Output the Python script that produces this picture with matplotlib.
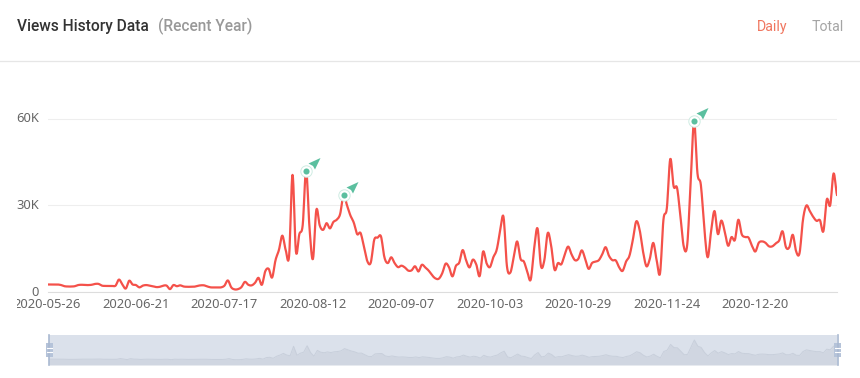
import numpy as np
import matplotlib
matplotlib.use("Agg")
import matplotlib.pyplot as plt
from matplotlib.path import Path
from matplotlib.patches import Rectangle
from matplotlib.lines import Line2D
from matplotlib.ticker import FixedLocator, FixedFormatter

W, H = 860, 378
TITLE = "Views History Data"
SUBTITLE = "(Recent Year)"
TAB_ACTIVE = "Daily"
TAB_OTHER = "Total"
date_labels = ["2020-05-26", "2020-06-21", "2020-07-17", "2020-08-12", "2020-09-07",
               "2020-10-03", "2020-10-29", "2020-11-24", "2020-12-20"]
date_index = [0, 26, 52, 78, 104, 130, 156, 182, 208]
y_ticks = [0, 30, 60]
y_labels = ["0", "30K", "60K"]
peak_index = [76, 87, 190]
views = [
    2.6,2.6,2.6,2.6,2.4,2.0,1.9,1.9,2.0,2.4,
    2.5,2.4,2.4,2.5,2.8,2.8,2.2,2.1,2.1,2.1,
    2.2,4.3,2.6,1.2,3.9,2.6,2.4,1.6,2.2,2.4,
    2.2,2.0,1.7,1.8,2.2,2.2,1.0,2.4,2.0,2.3,
    1.9,1.8,1.8,1.8,2.1,2.3,2.3,1.9,1.6,1.6,
    1.6,1.6,2.2,4.0,1.6,0.9,1.0,1.7,3.5,2.5,
    2.3,3.2,4.9,2.5,7.2,8.0,5.0,11,14.5,19.5,
    14.5,12.5,40.5,14,20,23.2,42,22,11.4,28.4,
    23,21.5,23.8,22,24.2,25,27,33.6,30,26.5,
    24,20,20.4,15.5,10.6,10.2,18,18.8,19.2,12,
    10,12,10,8.6,9.1,8.5,7.4,7.5,8.9,7.1,
    9.4,8.5,7.4,5.8,4.7,4.6,6.5,9.8,8.5,5.4,
    9,10.2,14.5,11,8.5,11.2,9.5,5.5,14,10,
    8.6,12,14.6,21,26,9,6.7,12,17.5,11.5,
    10.5,7,4.3,15,22,9,11,20.4,16,7.7,
    10,9.6,13,15.7,13,11,11.5,14.4,11.5,8,
    10,10.5,11,13,15.5,12.5,11,10.9,8.5,7.3,
    10.5,12.5,18,24.4,21.5,14,8.9,11.5,17,11,
    6.5,25,29,46,36.5,36,26,15.5,16.5,38,
    59,41,37,22,12,21,28,20,24.7,21,
    16,19,18,25,20,19,18.8,16,14,17,
    17.5,17,15.8,15.8,16.8,17.8,21,15.5,15.5,19.8,
    14,13.5,25,29.9,28,26,24.6,24.8,21,32,
    30,41,33.6,
]

RED = "#f4514a"
GREEN = "#5bbf9f"
FONT = "Noto Sans"

def rect_px(x0, y0, x1, y1):
    return [x0 / W, 1 - y1 / H, (x1 - x0) / W, (y1 - y0) / H]

def smooth(x, y, n=8):
    """Catmull-Rom display curve through the daily values."""
    x = np.asarray(x, float); y = np.asarray(y, float)
    t = np.linspace(0, 1, n, endpoint=False)[:, None]
    p0 = np.r_[y[0], y[:-2]]; p1 = y[:-1]; p2 = y[1:]; p3 = np.r_[y[2:], y[-1]]
    k = 0.5
    m1 = k * (p2 - p0); m2 = k * (p3 - p1)
    c = ((2*t**3 - 3*t**2 + 1) * p1 + (t**3 - 2*t**2 + t) * m1 +
         (-2*t**3 + 3*t**2) * p2 + (t**3 - t**2) * m2)
    xs = x[:-1] + t * np.diff(x)
    return np.r_[xs.T.ravel(), x[-1]], np.r_[c.T.ravel(), y[-1]]

days = np.arange(len(views))
fig = plt.figure(figsize=(W / 100, H / 100), dpi=100, facecolor="white")

# header
fig.text(17 / W, 1 - 26 / H, TITLE, family="Roboto", weight="medium", fontsize=11.2,
         color="#333333", va="center", ha="left")
fig.text(158 / W, 1 - 26 / H, SUBTITLE, family="Roboto", weight="medium", fontsize=11.2,
         color="#999999", va="center", ha="left")
fig.text(757 / W, 1 - 27 / H, TAB_ACTIVE, family="Roboto", fontsize=10.2,
         color="#f0765f", va="center", ha="left")
fig.text(812 / W, 1 - 27 / H, TAB_OTHER, family="Roboto", fontsize=10.2,
         color="#a5a5a5", va="center", ha="left")
fig.add_artist(Line2D([0, 1], [1 - 61 / H] * 2, color="#e6e6e6", lw=0.9))

# main chart
ax = fig.add_axes(rect_px(47.5, 100, 837, 292))
ax.set_xlim(0, len(views) - 1)
ax.set_ylim(0, 192 / 173.5 * 60)
ax.patch.set_visible(False)
for s in ["top", "right", "left"]:
    ax.spines[s].set_visible(False)
ax.spines["bottom"].set_color("#dddddd")
ax.yaxis.set_major_locator(FixedLocator(y_ticks))
ax.yaxis.set_major_formatter(FixedFormatter(y_labels))
ax.xaxis.set_major_locator(FixedLocator(date_index))
ax.xaxis.set_major_formatter(FixedFormatter(date_labels))
ax.tick_params(axis="both", length=0, labelsize=9.3, labelcolor="#666666", labelfontfamily=FONT)
ax.tick_params(axis="y", pad=6)
ax.tick_params(axis="x", pad=4.5)
for lab in ax.get_yticklabels():
    lab.set_verticalalignment("center")
ax.grid(axis="y", color="#eeeeee", lw=0.8)
ax.set_axisbelow(True)
clip = Rectangle((17, 0), W, H, transform=None)
for lab in ax.get_xticklabels():
    lab.set_clip_path(clip)
    lab.set_clip_on(True)

sx, sy = smooth(days, views)
ax.plot(sx, np.clip(sy, 0.3, None), color=RED, lw=1.6, solid_joinstyle="round", zorder=3)

# peak markers
px = [days[i] for i in peak_index]
py = [views[i] for i in peak_index]
ax.plot(px, py, ls="", marker="o", ms=8.2, mfc="white", mec="#cfece3", mew=0.7, zorder=4, clip_on=False)
ax.plot(px, py, ls="", marker="o", ms=4.4, mfc=GREEN, mec="none", zorder=5, clip_on=False)
arrow = Path([(2, 8), (14, 13.5), (8.5, 2), (6.5, 5.5), (2, 8)])
ax.plot(px, py, ls="", marker=arrow, ms=2 * 14 * 0.72, mfc=GREEN, mec="none", zorder=5, clip_on=False)

# data zoom
az = fig.add_axes(rect_px(49, 335, 837, 365))
az.set_xlim(0, len(views) - 1)
az.set_ylim(-14.75, 73.75)
az.set_facecolor("#dbe1eb")
for s in az.spines.values():
    s.set_visible(False)
az.set_xticks([]); az.set_yticks([])
az.fill_between(days, views, -14.75, color="#d0d6e1", lw=0)
az.plot(days, views, color="#c8cfdb", lw=0.7)
for xh in [49, 837.5]:
    fig.add_artist(Line2D([xh / W] * 2, [1 - 335 / H, 1 - 365 / H], color="#a9b9d1", lw=1.2))
    fig.add_artist(Rectangle(((xh - 3.5) / W, 1 - 357 / H), 7 / W, 14 / H,
                             transform=fig.transFigure, fc="#b5c3d9", ec="none"))
    for yh in [348, 352]:
        fig.add_artist(Line2D([(xh - 2.5) / W, (xh + 2.5) / W], [1 - yh / H] * 2, color="white", lw=0.8))

fig.savefig("out.png", dpi=100)
